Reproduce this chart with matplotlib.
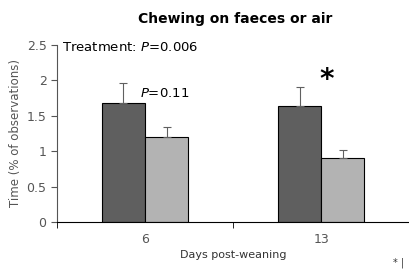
import matplotlib
matplotlib.use('Agg')
import matplotlib.pyplot as plt
import numpy as np

days = ['6', '13']
group_a = [1.68, 1.64]
group_a_err = [0.28, 0.26]
group_b = [1.20, 0.90]
group_b_err = [0.14, 0.11]

plt.rcParams['font.family'] = ['DejaVu Sans']

fig = plt.figure(figsize=(4.1, 2.71), dpi=100)
ax = fig.add_axes([0.139, 0.181, 0.859, 0.653])

x = np.arange(len(days))
w = 0.245
ax.bar(x - w / 2, group_a, w, color='#5f5f5f', edgecolor='black', linewidth=0.8)
ax.bar(x + w / 2, group_b, w, color='#b3b3b3', edgecolor='black', linewidth=0.8)
ax.errorbar(x - w / 2, group_a, yerr=[[0, 0], group_a_err], fmt='none',
            ecolor='#606060', elinewidth=0.8, capsize=3, capthick=0.8)
ax.errorbar(x + w / 2, group_b, yerr=[[0, 0], group_b_err], fmt='none',
            ecolor='#606060', elinewidth=0.8, capsize=3, capthick=0.8)

ax.set_xlim(-0.5, 1.5)
ax.set_ylim(0, 2.5)
ax.set_yticks([0, 0.5, 1, 1.5, 2, 2.5])
ax.set_yticklabels(['0', '0.5', '1', '1.5', '2', '2.5'])
ax.set_xticks(x)
ax.set_xticklabels(days)
ax.set_xticks([-0.5, 0.5, 1.5], minor=True)
ax.tick_params(axis='x', which='major', length=0, pad=8, labelsize=9, labelcolor='#555555')
ax.tick_params(axis='x', which='minor', length=4, direction='out', color='black')
ax.tick_params(axis='y', length=4, direction='out', labelsize=9, labelcolor='#555555', color='#555555')

for s in ['top', 'right']:
    ax.spines[s].set_visible(False)
ax.spines['left'].set_color('#555555')
ax.spines['bottom'].set_color('black')

ax.set_ylabel('Time (% of observations)', fontsize=8.5, color='#555555', labelpad=3)
ax.set_xlabel('Days post-weaning', fontsize=8, color='#333333', labelpad=3)
fig.text(0.573, 0.93, 'Chewing on faeces or air', ha='center', va='center',
         fontsize=10, fontweight='bold')

ax.text(-0.47, 2.47, 'Treatment: $\\mathit{P}$=0.006', fontsize=9.5, va='center', ha='left')
ax.text(-0.03, 1.82, '$\\mathit{P}$=0.11', fontsize=9.5, va='center', ha='left')
ax.text(1.03, 2.0, '*', fontsize=20, fontweight='bold', ha='center', va='center')
fig.text(0.958, 0.01, '* |', fontsize=7, color='#333333', ha='left', va='bottom')

fig.savefig('out.png', dpi=100)
